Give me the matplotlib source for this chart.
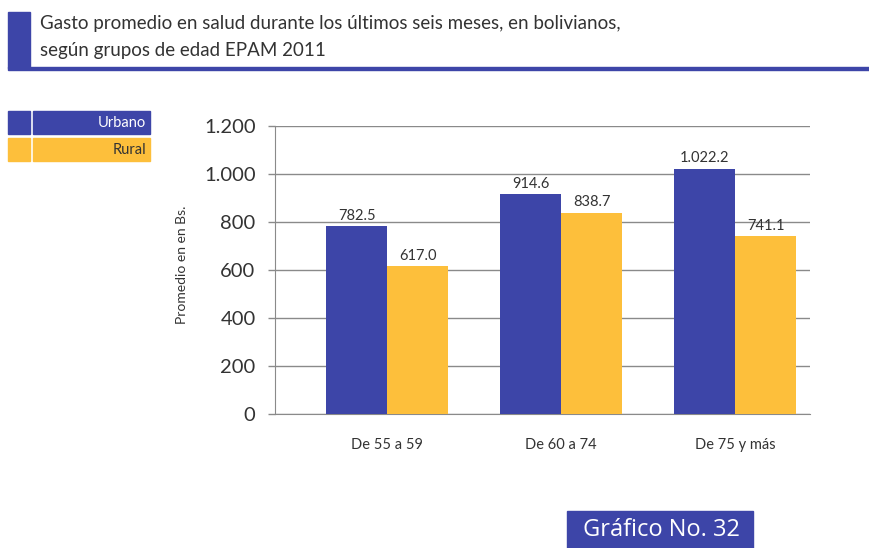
import numpy as np
import matplotlib.pyplot as plt
from matplotlib.patches import Rectangle
from matplotlib.ticker import FuncFormatter

grupos = ["De 55 a 59", "De 60 a 74", "De 75 y más"]
urbano = [782.5, 914.6, 1022.2]
rural = [617.0, 838.7, 741.1]
etiquetas_urbano = ["782.5", "914.6", "1.022.2"]
etiquetas_rural = ["617.0", "838.7", "741.1"]

azul = "#3d45a8"
amarillo = "#fdbf3b"
gris = "#8a8a8a"
texto = "#333333"

plt.rcParams['font.family'] = ['Lato', 'DejaVu Sans']

W, H = 869, 548
fig = plt.figure(figsize=(W / 100, H / 100), dpi=100)

def px(x0, y0, x1, y1):
    # pixel box (top-left origin) -> figure fraction
    return [x0 / W, 1 - y1 / H, (x1 - x0) / W, (y1 - y0) / H]

# header
fig.patches.append(Rectangle((8 / W, 1 - 68 / H), 22 / W, 56 / H,
                             transform=fig.transFigure, color=azul))
fig.patches.append(Rectangle((8 / W, 1 - 70 / H), (W - 8) / W, 3 / H,
                             transform=fig.transFigure, color=azul))
fig.text(40 / W, 1 - 24 / H, "Gasto promedio en salud durante los últimos seis meses, en bolivianos,",
         fontsize=13.5, color=texto, va="center")
fig.text(40 / W, 1 - 50 / H, "según grupos de edad EPAM 2011",
         fontsize=13.5, color=texto, va="center")

# legend boxes
for y0, col, lab, tcol in [(111, azul, "Urbano", "white"), (138, amarillo, "Rural", texto)]:
    fig.patches.append(Rectangle((8 / W, 1 - (y0 + 23) / H), 22 / W, 23 / H,
                                 transform=fig.transFigure, color=col))
    fig.patches.append(Rectangle((33 / W, 1 - (y0 + 23) / H), 117 / W, 23 / H,
                                 transform=fig.transFigure, color=col))
    fig.text(146 / W, 1 - (y0 + 12) / H, lab, fontsize=10.5, color=tcol,
             ha="right", va="center")

# chart
ax = fig.add_axes(px(275, 126, 810, 414))
x = np.arange(len(grupos))
w = 0.35
b1 = ax.bar(x - w / 2, urbano, w, color=azul, zorder=3)
b2 = ax.bar(x + w / 2, rural, w, color=amarillo, zorder=3)
for bars, labs in [(b1, etiquetas_urbano), (b2, etiquetas_rural)]:
    for rect, lab in zip(bars, labs):
        ax.text(rect.get_x() + rect.get_width() / 2, rect.get_height() + 14, lab,
                ha="center", va="bottom", fontsize=10.5, color=texto)

ax.set_xlim(-0.645, 2.43)
ax.set_ylim(0, 1200)
ax.set_yticks(np.arange(0, 1201, 200))
ax.yaxis.set_major_formatter(FuncFormatter(lambda v, p: f"{int(v):,}".replace(",", ".")))
ax.set_xticks(x)
ax.set_xticklabels(grupos, fontsize=10.5, color=texto)
ax.tick_params(axis="x", length=0, pad=17)
ax.tick_params(axis="y", length=5, width=1, color=gris, labelsize=14.5,
               labelcolor=texto, pad=9)
ax.yaxis.grid(True, color=gris, linewidth=1, zorder=0)
for s in ["top", "right"]:
    ax.spines[s].set_visible(False)
ax.spines["left"].set_color(gris)
ax.spines["bottom"].set_color(gris)
ax.set_ylabel("Promedio en en Bs.", fontsize=10, color=texto)
ax.yaxis.set_label_coords(-0.163, 0.517)

# footer tag
fig.patches.append(Rectangle((567 / W, 0), 186 / W, 37 / H,
                             transform=fig.transFigure, color=azul))
fig.text(661 / W, 18 / H, "Gráfico No. 32", fontsize=17, color="white",
         ha="center", va="center", family=["Open Sans", "DejaVu Sans"])

fig.savefig("out.png", dpi=100)
